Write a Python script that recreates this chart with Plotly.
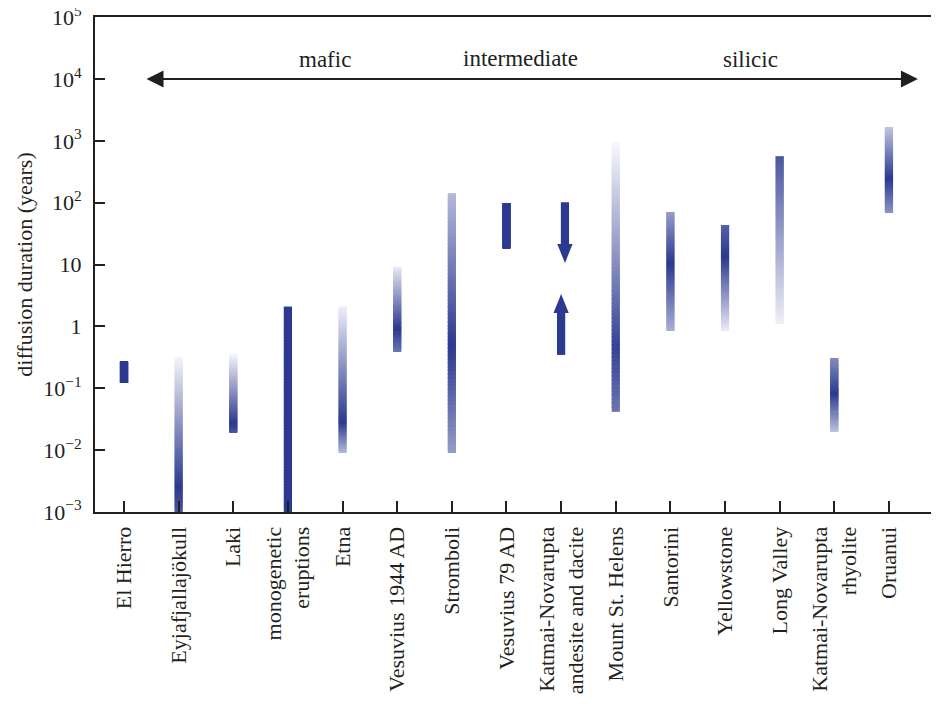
import plotly.graph_objects as go
import numpy as np

# ---------------- data ----------------
categories = ["El Hierro", "Eyjafjallajökull", "Laki", "monogenetic<br>eruptions", "Etna",
              "Vesuvius 1944 AD", "Stromboli", "Vesuvius 79 AD",
              "Katmai-Novarupta<br>andesite and dacite", "Mount St. Helens", "Santorini",
              "Yellowstone", "Long Valley", "Katmai-Novarupta<br>rhyolite", "Oruanui"]

# duration ranges (years); None for the Katmai andesite/dacite (shown as bounding arrows)
range_low = [0.122, 0.001, 0.019, 0.001, 0.009, 0.40, 0.009, 18.5, None, 0.0416, 0.845, 0.845, 1.1, 0.0198, 70.8]
range_high = [0.267, 0.32, 0.36, 2.1, 2.1, 9.1, 143, 99, None, 957, 70.8, 43.6, 568, 0.30, 1670]

# colour intensity profile along each bar: (fraction from bottom, intensity)
intensity_profile = [
    [(0, 1), (1, 1)],
    [(0, 0.85), (0.16, 1.0), (1, 0.05)],
    [(0, 0.85), (0.13, 1.0), (1, 0.05)],
    [(0, 1), (1, 1)],
    [(0, 0.35), (0.21, 1.0), (1, 0.08)],
    [(0, 0.7), (0.27, 1.0), (1, 0.12)],
    [(0, 0.5), (0.41, 1.0), (1, 0.35)],
    [(0, 1), (1, 1)],
    None,
    [(0, 0.7), (0.24, 0.95), (1, 0.03)],
    [(0, 0.4), (0.57, 1.0), (1, 0.5)],
    [(0, 0.1), (0.7, 1.0), (1, 0.8)],
    [(0, 0.08), (1, 0.85)],
    [(0, 0.3), (0.53, 1.0), (1, 0.6)],
    [(0, 0.55), (0.4, 1.0), (1, 0.3)],
]

# Katmai andesite/dacite bounds: (shaft end, head base, tip)
katmai_upper_arrow = (102, 21.5, 10.6)   # pointing down
katmai_lower_arrow = (0.347, 1.65, 3.35)  # pointing up

ytick_vals = [1e-3, 1e-2, 1e-1, 1, 10, 1e2, 1e3, 1e4, 1e5]
ytick_text = ["10<sup>−3</sup>", "10<sup>−2</sup>", "10<sup>−1</sup>", "1", "10",
              "10<sup>2</sup>", "10<sup>3</sup>", "10<sup>4</sup>", "10<sup>5</sup>"]

composition_labels = ["mafic", "intermediate", "silicic"]
composition_x = [3.68, 7.25, 11.46]

# ---------------- styling ----------------
DARK = np.array([43, 57, 144])
WHITE = np.array([255, 255, 255])
AXIS = "#231f20"
FONT = "Liberation Serif"
BAR_W = 0.15
NSEG = 70


def col(t):
    c = WHITE * (1 - t) + DARK * t
    return "rgb(%d,%d,%d)" % tuple(np.round(c).astype(int))


seg_x, seg_base, seg_h, seg_c = [], [], [], []
for i, (lo, hi, prof) in enumerate(zip(range_low, range_high, intensity_profile)):
    if lo is None:
        continue
    a, b = np.log10(lo), np.log10(hi)
    fx = [p[0] for p in prof]
    fv = [p[1] for p in prof]
    edges = np.linspace(a, b, NSEG + 1)
    step = edges[1] - edges[0]
    for k in range(NSEG):
        s0 = edges[k]
        s1 = min(edges[k + 1] + step * 0.6, b)
        mid = (edges[k] + edges[k + 1]) / 2
        t = np.interp((mid - a) / (b - a), fx, fv)
        seg_x.append(i)
        seg_base.append(10 ** s0)
        seg_h.append(10 ** s1 - 10 ** s0)
        seg_c.append(col(t))

fig = go.Figure()
fig.add_trace(go.Bar(x=seg_x, y=seg_h, base=seg_base, width=BAR_W,
                     marker=dict(color=seg_c, line=dict(width=0)),
                     showlegend=False, hoverinfo="skip"))

# Katmai arrows
ki = categories.index("Katmai-Novarupta<br>andesite and dacite")
dark_c = col(1)
xd = ki + 0.07
xu = ki
fig.add_trace(go.Bar(x=[xd, xu],
                     base=[katmai_upper_arrow[1], katmai_lower_arrow[0]],
                     y=[katmai_upper_arrow[0] - katmai_upper_arrow[1],
                        katmai_lower_arrow[1] - katmai_lower_arrow[0]],
                     width=BAR_W, marker=dict(color=dark_c, line=dict(width=0)),
                     showlegend=False, hoverinfo="skip"))
hw = 0.14
for xc, (_, hb, tip) in [(xd, katmai_upper_arrow), (xu, katmai_lower_arrow)]:
    fig.add_trace(go.Scatter(x=[xc - hw, xc + hw, xc, xc - hw], y=[hb, hb, tip, hb],
                             fill="toself", fillcolor=dark_c, mode="lines",
                             line=dict(width=0, color=dark_c),
                             showlegend=False, hoverinfo="skip"))

# right-side tick marks (no line)
fig.add_trace(go.Scatter(x=[None], y=[None], yaxis="y2", showlegend=False))

# composition arrow
fig.add_annotation(x=14.53, y=4, ax=0.384, ay=4, xref="x", yref="y", axref="x", ayref="y",
                   showarrow=True, arrowside="end+start", arrowhead=2, arrowsize=1.7,
                   arrowwidth=2, arrowcolor=AXIS, text="")
for lab, xl in zip(composition_labels, composition_x):
    fig.add_annotation(x=xl, y=4.31 if lab != "intermediate" else 4.34, xref="x", yref="y",
                       text=lab, showarrow=False,
                       font=dict(family=FONT, size=23, color=AXIS))

fig.update_layout(
    width=931, height=701,
    margin=dict(l=87, r=0, t=9, b=197),
    plot_bgcolor="white", paper_bgcolor="white",
    barmode="overlay",
    font=dict(family=FONT, size=21, color=AXIS),
    xaxis=dict(range=[-0.531, 14.916], tickmode="array",
               tickvals=list(range(len(categories))), ticktext=categories,
               tickangle=-90, ticks="inside", ticklen=11, tickwidth=2, tickcolor=AXIS,
               showline=True, linewidth=2, linecolor=AXIS, mirror=True,
               showgrid=False, zeroline=False, automargin=False, ticklabelstandoff=4,
               tickfont=dict(family=FONT, size=22)),
    yaxis=dict(type="log", range=[-3, 5.004], tickmode="array", tickvals=ytick_vals,
               ticktext=ytick_text, ticks="inside", ticklen=10, tickwidth=2, tickcolor=AXIS,
               showline=True, linewidth=2, linecolor=AXIS, showgrid=False, zeroline=False,
               automargin=False, ticklabelstandoff=7, ticklabeloverflow="allow",
               title=dict(text="diffusion duration (years)", font=dict(family=FONT, size=22),
                          standoff=5),
               tickfont=dict(family=FONT, size=22)),
    yaxis2=dict(type="log", range=[-3, 5.004], overlaying="y", side="right",
                tickmode="array", tickvals=ytick_vals[1:-2], ticks="inside", ticklen=5,
                tickwidth=2, tickcolor=AXIS, showticklabels=False, showline=False,
                showgrid=False, zeroline=False, automargin=False),
)

fig.write_html("out.html")
